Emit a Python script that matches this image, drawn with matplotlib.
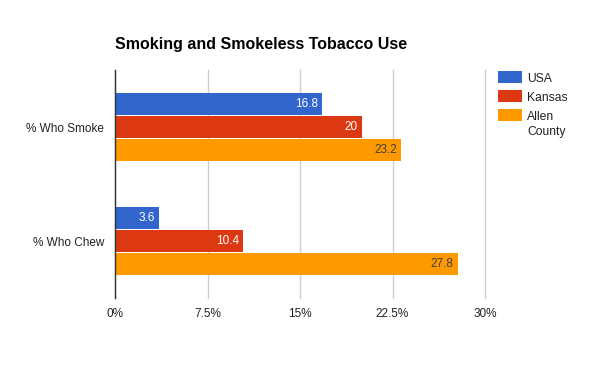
import matplotlib
matplotlib.use("Agg")
import matplotlib.pyplot as plt
from matplotlib.patches import Rectangle
import numpy as np

categories = ["% Who Smoke", "% Who Chew"]
series_names = ["USA", "Kansas", "Allen\nCounty"]
usa = [16.8, 3.6]
kansas = [20, 10.4]
allen = [23.2, 27.8]
xticks = [0, 7.5, 15, 22.5, 30]
xticklabels = ["0%", "7.5%", "15%", "22.5%", "30%"]
colors = ["#3366cc", "#dc3912", "#ff9900"]
label_colors = ["white", "white", "#404040"]

plt.rcParams["font.family"] = ["Liberation Sans", "DejaVu Sans"]

W, H = 600, 371
fig = plt.figure(figsize=(6, 3.71), dpi=100)
ax = fig.add_axes([115/W, 1 - 298/H, 370/W, 228/H])

h = 0.2
y = np.arange(len(categories))
series = [usa, kansas, allen]
for i, (vals, c, lc) in enumerate(zip(series, colors, label_colors)):
    ypos = y + (i - 1) * h
    bars = ax.barh(ypos, vals, height=h * 0.96, color=c, label=series_names[i], zorder=3)
    for b, v in zip(bars, vals):
        ax.text(b.get_width() - 0.35, b.get_y() + b.get_height() / 2, f"{v:g}",
                ha="right", va="center", color=lc, fontsize=8.5, zorder=4)

ax.set_xlim(0, 30)
ax.set_ylim(1.5, -0.5)
ax.set_xticks(xticks)
ax.set_xticklabels(xticklabels, fontsize=8.5, color="#222222")
ax.set_yticks(y)
ax.set_yticklabels(categories, fontsize=8.5, color="#222222")
ax.tick_params(length=0, pad=7)
ax.tick_params(axis="y", pad=8)
ax.grid(axis="x", color="#cccccc", linewidth=1, zorder=0)
for gl in ax.get_xgridlines():
    gl.set_clip_on(False)
for s in ["top", "right", "bottom"]:
    ax.spines[s].set_visible(False)
ax.spines["left"].set_color("#333333")
ax.spines["left"].set_linewidth(1)
ax.spines["left"].set_zorder(5)

fig.text(115/W, 1 - 45/H, "Smoking and Smokeless Tobacco Use", fontsize=11.5,
         fontweight="bold", ha="left", va="center", color="black")

# legend drawn manually so multi-line labels top-align with their swatches
leg_top = [71, 90, 109]
for name, c, top in zip(series_names, colors, leg_top):
    fig.add_artist(Rectangle((498/W, 1 - (top + 12)/H), 24/W, 12/H,
                             transform=fig.transFigure, color=c, lw=0))
    fig.text(527/W, 1 - (top + 2)/H, name, fontsize=8.7, ha="left", va="top",
             color="#222222", linespacing=1.3)

fig.savefig("out.png", dpi=100)
